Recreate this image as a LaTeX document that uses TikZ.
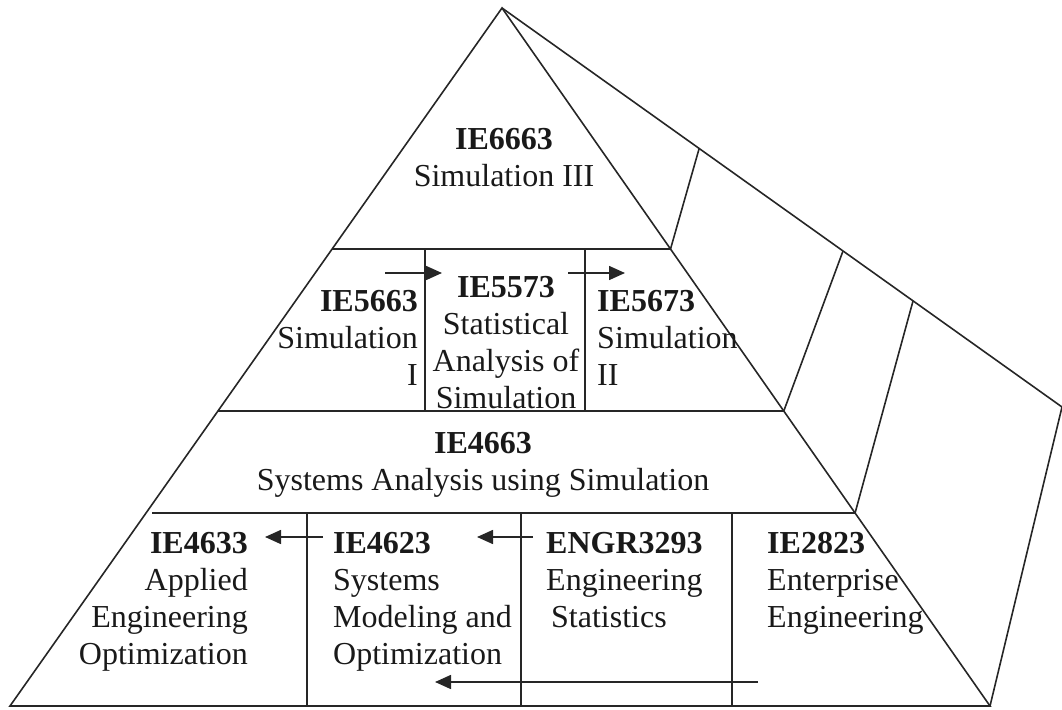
\documentclass[tikz,border=0pt]{standalone}
\usepackage{fontspec}
\setmainfont{Liberation Serif}
\usetikzlibrary{arrows.meta,calc}
\begin{document}
\begin{tikzpicture}[x=1pt,y=-1pt,
  edge/.style={line width=1.6pt, draw=black!85},
  flow/.style={line width=1.6pt, draw=black!85, -{Triangle[length=16pt,width=14pt]}},
  course/.style={inner sep=0pt, text=black!90, font=\fontsize{32}{37}\selectfont},
]
\useasboundingbox (0,0) rectangle (1062,709);
% main pyramid corners
\coordinate (apex) at (502,8);
\coordinate (bl) at (10,706);
\coordinate (br) at (990,706);
\coordinate (bk) at (1062,407);
% tier boundaries on left and right edges
\coordinate (l1) at ($(apex)!0.3453!(bl)$);
\coordinate (r1) at ($(apex)!0.3453!(br)$);
\coordinate (l2) at ($(apex)!0.5774!(bl)$);
\coordinate (r2) at ($(apex)!0.5774!(br)$);
\coordinate (l3) at (152,513);
\coordinate (r3) at ($(apex)!0.7235!(br)$);
% back face points
\coordinate (b1) at (699,149);
\coordinate (b2) at (843,251);
\coordinate (b3) at (913,301);

% outline
\draw[edge, line join=miter] (apex) -- (bl) -- (br) -- cycle;
\draw[edge] (apex) -- (bk) -- (br);
% tiers
\draw[edge] (l1) -- (r1);
\draw[edge] (l2) -- (r2);
\draw[edge] (l3) -- (r3);
% back face
\draw[edge] (r1) -- (b1);
\draw[edge] (r2) -- (b2);
\draw[edge] (r3) -- (b3);
% dividers
\draw[edge] (425,249) -- (425,411);
\draw[edge] (585,249) -- (585,411);
\draw[edge] (307,513) -- (307,706);
\draw[edge] (521,513) -- (521,706);
\draw[edge] (732,513) -- (732,706);

% course nodes
\node[course, anchor=north, align=center] (ie6663) at (504,128) {\textbf{IE6663}\\Simulation III};
\node[course, anchor=north east, align=right] (ie5663) at (418,290) {\textbf{IE5663}\\Simulation\\I};
\node[course, anchor=north, align=center] (ie5573) at (506,276) {\textbf{IE5573}\\Statistical\\Analysis of\\Simulation};
\node[course, anchor=north west, align=left] (ie5673) at (597,290) {\textbf{IE5673}\\Simulation\\II};
\node[course, anchor=north, align=center] (ie4663) at (483,432) {\textbf{IE4663}\\Systems Analysis using Simulation};
\node[course, anchor=north east, align=right] (ie4633) at (248,532) {\textbf{IE4633}\\Applied\\Engineering\\Optimization};
\node[course, anchor=north west, align=left] (ie4623) at (333,532) {\textbf{IE4623}\\Systems\\Modeling and\\Optimization};
\node[course, anchor=north west, align=left] (engr3293) at (546,532) {\textbf{ENGR3293}\\Engineering\\\hspace{5pt}Statistics};
\node[course, anchor=north west, align=left] (ie2823) at (767,532) {\textbf{IE2823}\\Enterprise\\Engineering};

% arrow end points
\coordinate (a1s) at (385,273); \coordinate (a1e) at (442,273);
\coordinate (a2s) at (568,273); \coordinate (a2e) at (625,273);
\coordinate (a3s) at (323,537); \coordinate (a3e) at (265,537);
\coordinate (a4s) at (533,537); \coordinate (a4e) at (477,537);
\coordinate (a5s) at (758,682); \coordinate (a5e) at (435,682);
\draw[flow] (a1s) -- (a1e);
\draw[flow] (a2s) -- (a2e);
\draw[flow] (a3s) -- (a3e);
\draw[flow] (a4s) -- (a4e);
\draw[flow] (a5s) -- (a5e);
\end{tikzpicture}
\end{document}
